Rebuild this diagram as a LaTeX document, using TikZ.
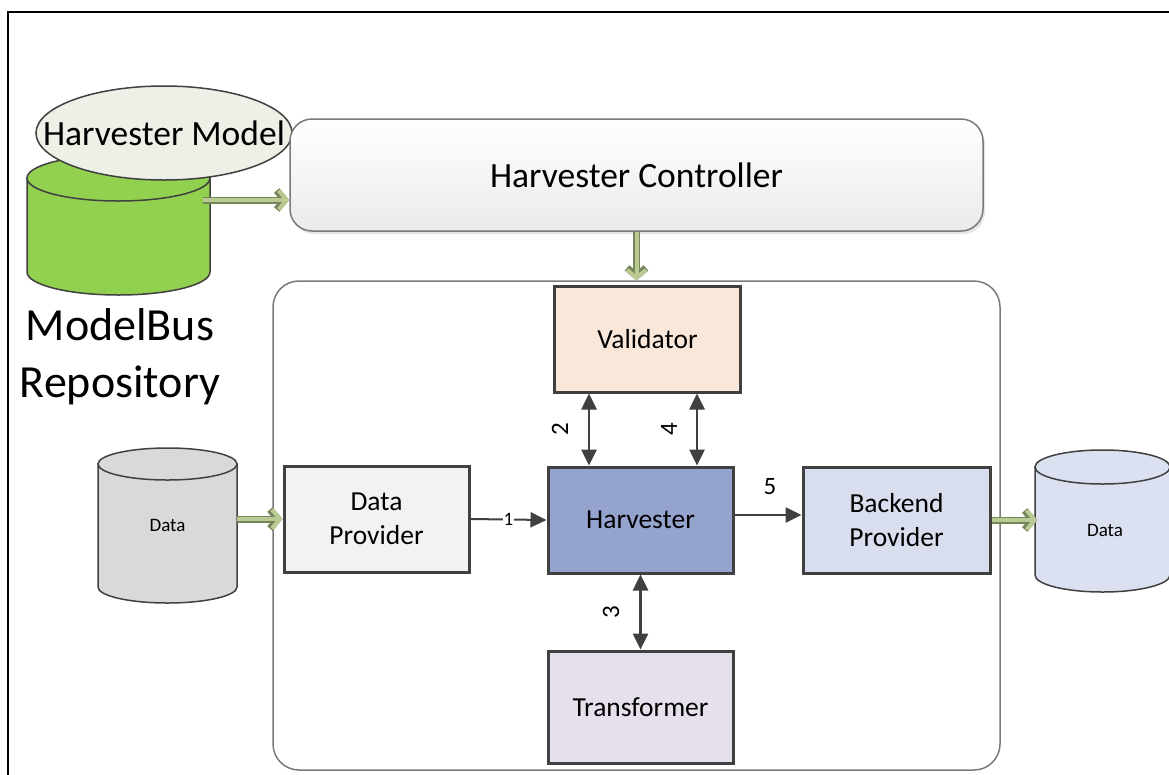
\documentclass[tikz,border=0pt]{standalone}
\usepackage{fontspec}
\setmainfont{Carlito}
\usetikzlibrary{arrows.meta,shapes.geometric,shadows}
\definecolor{boxline}{HTML}{404040}
\definecolor{arrowc}{HTML}{404040}
\definecolor{gdark}{HTML}{76865A}
\definecolor{glight}{HTML}{B9CA92}
\definecolor{cylgreen}{HTML}{92D050}
\definecolor{modelfill}{HTML}{EDF0E6}
\definecolor{valfill}{HTML}{F9E7DA}
\definecolor{harvfill}{HTML}{95A3CF}
\definecolor{backfill}{HTML}{D9DEEE}
\definecolor{dpfill}{HTML}{F2F2F2}
\definecolor{trfill}{HTML}{E5E0EC}
\definecolor{dataLfill}{HTML}{D9D9D9}
\definecolor{dataRfill}{HTML}{DBE1F1}
\definecolor{panelline}{HTML}{7A7A7A}
\begin{document}
\begin{tikzpicture}[x=1pt,y=-1pt,
  procbox/.style={draw=boxline, line width=3pt, inner sep=0pt, align=center,
    font=\fontsize{27.5}{34}\selectfont},
  garrow/.style={draw=gdark, line width=7pt, -{Straight Barb[length=8pt,width=19pt]},
    postaction={draw=glight, line width=4pt, -{Straight Barb[length=8pt,width=19pt]}}},
  darrow/.style={draw=arrowc, line width=2.6pt, -{Triangle[length=16pt,width=15pt]}},
  ddarrow/.style={draw=arrowc, line width=2.6pt, {Triangle[length=16pt,width=15pt]}-{Triangle[length=16pt,width=15pt]}},
  numlabel/.style={font=\fontsize{25}{30}\selectfont, inner sep=1pt},
  cylline/.style={draw=boxline, line width=1.5pt},
  ]
\useasboundingbox (0,0) rectangle (1169,774);
\fill[white] (0,0) rectangle (1169,774);
% outer frame
\draw[line width=2.8pt, black] (8,800) -- (8,12) -- (1190,12);

% inner panel
\draw[draw=panelline, line width=1.5pt, rounded corners=26pt] (273,281) rectangle (1000,770);

% green cylinder (ModelBus repository)
\filldraw[cylline, fill=cylgreen] (27,178) -- (27,272) arc[start angle=180, end angle=0, x radius=91.5, y radius=23] -- (210,178) -- cycle;
\filldraw[cylline, fill=cylgreen] (118.5,178) ellipse [x radius=91.5, y radius=23];
\node[inner sep=0pt, minimum width=183pt, minimum height=140pt] (repo) at (118.5,225) {};
% harvester model ellipse
\node[ellipse, draw=boxline, line width=1.5pt, fill=modelfill, inner sep=0pt, minimum width=256pt, minimum height=94pt] (hm) at (164,133) {};
\node[font=\fontsize{35.5}{40}\selectfont, inner sep=0pt] at (hm) {Harvester Model};
\node[align=center, font=\fontsize{46}{57}\selectfont, inner sep=0pt] (repotext) at (120,357) {ModelBus\\Repository};

% controller
\node[draw=panelline, line width=1.5pt, rounded corners=22pt, top color=white, bottom color=black!8,
  drop shadow={shadow xshift=2pt, shadow yshift=-3pt, opacity=0.2},
  minimum width=693pt, minimum height=112pt, inner sep=0pt,
  font=\fontsize{35.5}{40}\selectfont] (ctrl) at (636.5,175) {Harvester Controller};

% process boxes
\node[procbox, fill=valfill, minimum width=186pt, minimum height=106pt] (val) at (647.5,339) {Validator};
\node[procbox, fill=dpfill, minimum width=185pt, minimum height=106pt] (dp) at (376.5,519) {Data\\Provider};
\node[procbox, fill=harvfill, minimum width=185pt, minimum height=106pt] (harv) at (640.5,520) {Harvester};
\node[procbox, fill=backfill, minimum width=187pt, minimum height=106pt] (bp) at (896.5,520) {Backend\\Provider};
\node[procbox, fill=trfill, minimum width=185pt, minimum height=112pt] (tr) at (640.5,707) {Transformer};

% data cylinders
\filldraw[cylline, fill=dataLfill] (98,464) -- (98,587) arc[start angle=180, end angle=0, x radius=69.5, y radius=16] -- (237,464) -- cycle;
\filldraw[cylline, fill=dataLfill] (167.5,464) ellipse [x radius=69.5, y radius=16];
\node[inner sep=0pt, minimum width=139pt, minimum height=140pt, font=\fontsize{19}{22}\selectfont] (dataL) at (167.5,525) {Data};
\filldraw[cylline, fill=dataRfill] (1035,467) -- (1035,575) arc[start angle=180, end angle=0, x radius=67.5, y radius=17] -- (1170,467) -- cycle;
\filldraw[cylline, fill=dataRfill] (1102.5,467) ellipse [x radius=67.5, y radius=17];
\node[inner sep=0pt, minimum width=135pt, minimum height=125pt, font=\fontsize{19}{22}\selectfont] (dataR) at (1105,530) {Data};

% green arrows
\coordinate (gA) at (203,200);
\draw[garrow] (gA) -- (gA -| ctrl.west);
\draw[garrow] (ctrl.south) -- ([yshift=4pt]ctrl.south |- val.north);
\draw[garrow] (dataL.east |- dp.west) -- (dp.west);
\draw[garrow] (bp.east) -- (bp.east -| dataR.west);

% dark arrows
\draw[darrow, line width=2pt] (dp.east) -- node[pos=0.5, fill=white, inner sep=1pt, font=\fontsize{19}{22}\selectfont] {1} (harv.west);
\coordinate (c2) at (589,0);
\coordinate (c4) at (697,0);
\draw[ddarrow] (c2 |- harv.north) -- (c2 |- val.south);
\draw[ddarrow] (c4 |- harv.north) -- (c4 |- val.south);
\draw[ddarrow] (harv.south) -- (tr.north);
\coordinate (c5) at (0,515);
\draw[darrow] (c5 -| harv.east) -- (c5 -| bp.west);

% labels
\node[numlabel, rotate=90] (l2) at (560,429) {2};
\node[numlabel, rotate=90] (l4) at (669,429) {4};
\node[numlabel, rotate=90] (l3) at (611,612) {3};
\node[numlabel] (l5) at (770,487) {5};
\end{tikzpicture}
\end{document}
